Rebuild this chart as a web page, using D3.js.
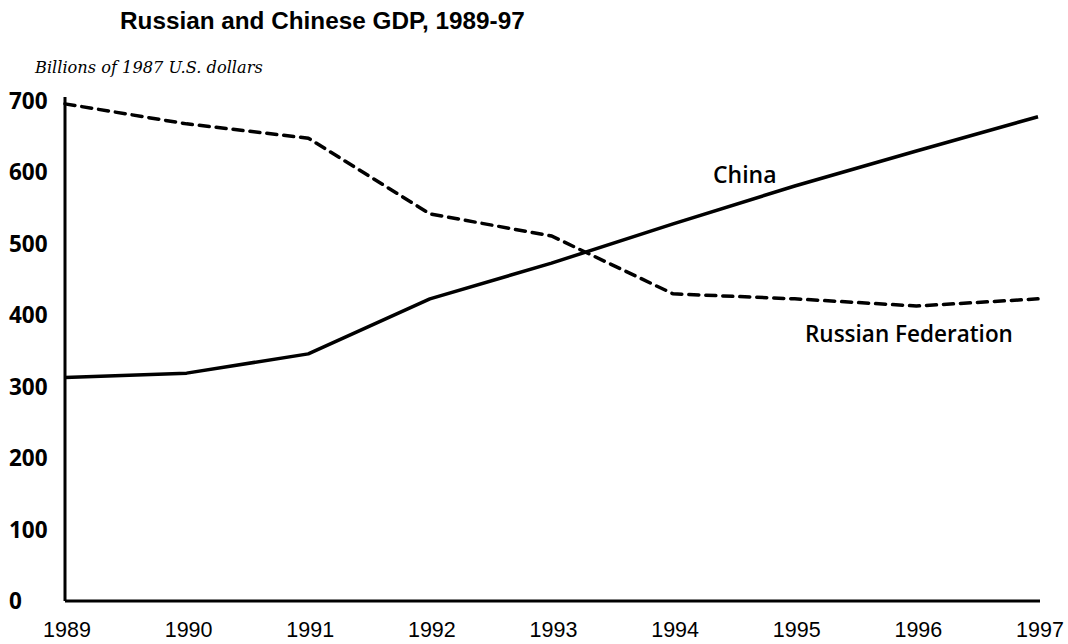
<!DOCTYPE html>
<html><head><meta charset="utf-8">
<script src="https://cdn.jsdelivr.net/npm/d3@7"></script>
<style>body{margin:0;background:#fff}</style>
</head><body>
<svg id="c" width="1068" height="644"></svg>
<script>
const years = [1989,1990,1991,1992,1993,1994,1995,1996,1997];
const china = [313,319,346,423,473,528,581,630,678];
const russia = [696,668,648,542,511,430,423,413,423];
const yTicks = [0,100,200,300,400,500,600,700];

const svg = d3.select("#c");
const x = d3.scaleLinear().domain([1989,1997]).range([65,1038]);
const y = d3.scaleLinear().domain([0,700]).range([601,101]);

svg.append("text").attr("x",120).attr("y",29)
  .attr("font-family","Liberation Sans, Arial, sans-serif").attr("font-weight","bold")
  .attr("font-size",24.3).text("Russian and Chinese GDP, 1989-97");
svg.append("text").attr("x",35).attr("y",73)
  .attr("font-family","DejaVu Serif, serif").attr("font-style","italic")
  .attr("font-size",16.2).text("Billions of 1987 U.S. dollars");

// y labels
svg.selectAll(".yl").data(yTicks).join("text")
  .attr("x",9).attr("y",d=>y(d)+8)
  .attr("font-family","Open Sans, sans-serif").attr("font-weight",700)
  .attr("font-size",22.5).text(d=>d);
// x labels
svg.selectAll(".xl").data(years).join("text")
  .attr("x",d=>x(d)+2).attr("y",637).attr("text-anchor","middle")
  .attr("font-family","Liberation Sans, Arial, sans-serif")
  .attr("font-size",21.5).text(d=>d);

// axes
svg.append("line").attr("x1",x(1989)).attr("x2",x(1989)).attr("y1",y(700)-4).attr("y2",y(0))
  .attr("stroke","#000").attr("stroke-width",3);
svg.append("line").attr("x1",x(1989)).attr("x2",x(1997)+2).attr("y1",y(0)).attr("y2",y(0))
  .attr("stroke","#000").attr("stroke-width",3);

const line = d3.line().x((d,i)=>x(years[i])).y(d=>y(d));
svg.append("path").datum(china).attr("d",line).attr("fill","none")
  .attr("stroke","#000").attr("stroke-width",3.5).attr("stroke-linejoin","round");
svg.append("path").datum(russia).attr("d",line).attr("fill","none")
  .attr("stroke","#000").attr("stroke-width",3.5).attr("stroke-dasharray","10,7")
  .attr("stroke-linecap","round");

svg.append("text").attr("x",713).attr("y",183)
  .attr("font-family","Open Sans, sans-serif").attr("font-weight",600)
  .attr("font-size",23).text("China");
svg.append("text").attr("x",805).attr("y",342)
  .attr("font-family","Open Sans, sans-serif").attr("font-weight",600)
  .attr("font-size",22.5).text("Russian Federation");
</script>
</body></html>
